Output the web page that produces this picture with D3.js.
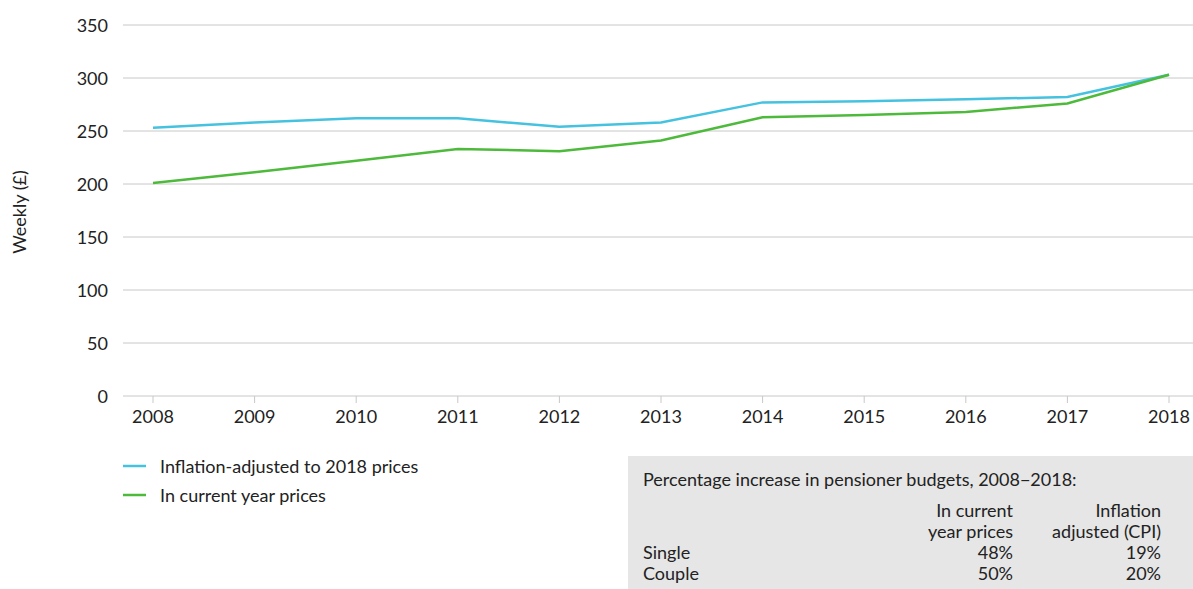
<!DOCTYPE html>
<html>
<head>
<meta charset="utf-8">
<script src="https://cdn.jsdelivr.net/npm/d3@7"></script>
<style>
  body { margin: 0; background: #fff; }
  text { font-family: Lato, "Open Sans", sans-serif; fill: #222; }
</style>
</head>
<body>
<div id="chart"></div>
<script>
// Data
const years = [2008, 2009, 2010, 2011, 2012, 2013, 2014, 2015, 2016, 2017, 2018];
const inflationAdjusted = [253, 258, 262, 262, 254, 258, 277, 278, 280, 282, 303];
const currentPrices = [201, 211, 222, 233, 231, 241, 263, 265, 268, 276, 303];
const yTicks = [0, 50, 100, 150, 200, 250, 300, 350];
const seriesNames = ["Inflation-adjusted to 2018 prices", "In current year prices"];
const seriesColors = ["#45c2df", "#4dba3b"];

const tableTitle = "Percentage increase in pensioner budgets, 2008\u22122018:";
const tableHeaders = [["In current", "year prices"], ["Inflation", "adjusted (CPI)"]];
const tableRows = ["Single", "Couple"];
const tableCurrent = ["48%", "50%"];
const tableCpi = ["19%", "20%"];

const width = 1193;
const height = 589;
const fontSize = "18px";

const svg = d3.select("#chart")
    .append("svg")
    .attr("width", width)
    .attr("height", height);

const x = d3.scalePoint()
    .domain(years)
    .range([153, 1169]);

const y = d3.scaleLinear()
    .domain([0, 350])
    .range([396, 25]);

// Gridlines
svg.append("g")
    .selectAll("line")
    .data(yTicks.filter(d => d > 0))
    .enter()
    .append("line")
    .attr("x1", 123)
    .attr("x2", width)
    .attr("y1", d => y(d))
    .attr("y2", d => y(d))
    .style("stroke", "#c8c8c8")
    .style("stroke-width", "1px");

// Y axis labels
svg.append("g")
    .selectAll("text")
    .data(yTicks)
    .enter()
    .append("text")
    .attr("x", 108)
    .attr("y", d => y(d) + 6.5)
    .attr("text-anchor", "end")
    .attr("font-size", fontSize)
    .text(d => d);

svg.append("text")
    .attr("transform", "translate(26, 212) rotate(-90)")
    .attr("text-anchor", "middle")
    .attr("font-size", fontSize)
    .text("Weekly (£)");

// X axis
const xAxis = svg.append("g")
    .attr("transform", `translate(0, ${y(0)})`);

xAxis.append("line")
    .attr("x1", 123)
    .attr("x2", width)
    .style("stroke", "#c8c8c8")
    .style("stroke-width", "1px");

xAxis.selectAll(".tick")
    .data(years)
    .enter()
    .append("line")
    .attr("x1", d => x(d))
    .attr("x2", d => x(d))
    .attr("y1", 0)
    .attr("y2", 7)
    .style("stroke", "#c8c8c8");

xAxis.selectAll(".lbl")
    .data(years)
    .enter()
    .append("text")
    .attr("x", d => x(d))
    .attr("y", 27)
    .attr("text-anchor", "middle")
    .attr("font-size", fontSize)
    .text(d => d);

// Lines
const line = d3.line()
    .x((d, i) => x(years[i]))
    .y(d => y(d));

[inflationAdjusted, currentPrices].forEach((values, i) => {
    svg.append("path")
        .datum(values)
        .attr("d", line)
        .attr("fill", "none")
        .style("stroke", seriesColors[i])
        .style("stroke-width", "2.5px");
});

// Legend
const legend = svg.selectAll(".legend")
    .data(seriesNames)
    .enter()
    .append("g")
    .attr("transform", (d, i) => `translate(123, ${466 + i * 29})`);

legend.append("line")
    .attr("x1", 0)
    .attr("x2", 23)
    .style("stroke", (d, i) => seriesColors[i])
    .style("stroke-width", "2.5px");

legend.append("text")
    .attr("x", 37)
    .attr("y", 6.5)
    .attr("font-size", fontSize)
    .text(d => d);

// Summary table
const table = svg.append("g");

table.append("rect")
    .attr("x", 628)
    .attr("y", 456)
    .attr("width", width - 628)
    .attr("height", height - 456)
    .attr("fill", "#e6e6e6");

table.append("text")
    .attr("x", 643)
    .attr("y", 486)
    .attr("font-size", fontSize)
    .text(tableTitle);

const colX = [1013, 1161];
tableHeaders.forEach((lines, c) => {
    lines.forEach((t, j) => {
        table.append("text")
            .attr("x", colX[c])
            .attr("y", 517 + j * 21)
            .attr("text-anchor", "end")
            .attr("font-size", fontSize)
            .text(t);
    });
});

tableRows.forEach((r, i) => {
    const yy = 559 + i * 21;
    table.append("text").attr("x", 643).attr("y", yy).attr("font-size", fontSize).text(r);
    table.append("text").attr("x", colX[0]).attr("y", yy).attr("text-anchor", "end").attr("font-size", fontSize).text(tableCurrent[i]);
    table.append("text").attr("x", colX[1]).attr("y", yy).attr("text-anchor", "end").attr("font-size", fontSize).text(tableCpi[i]);
});
</script>
</body>
</html>
